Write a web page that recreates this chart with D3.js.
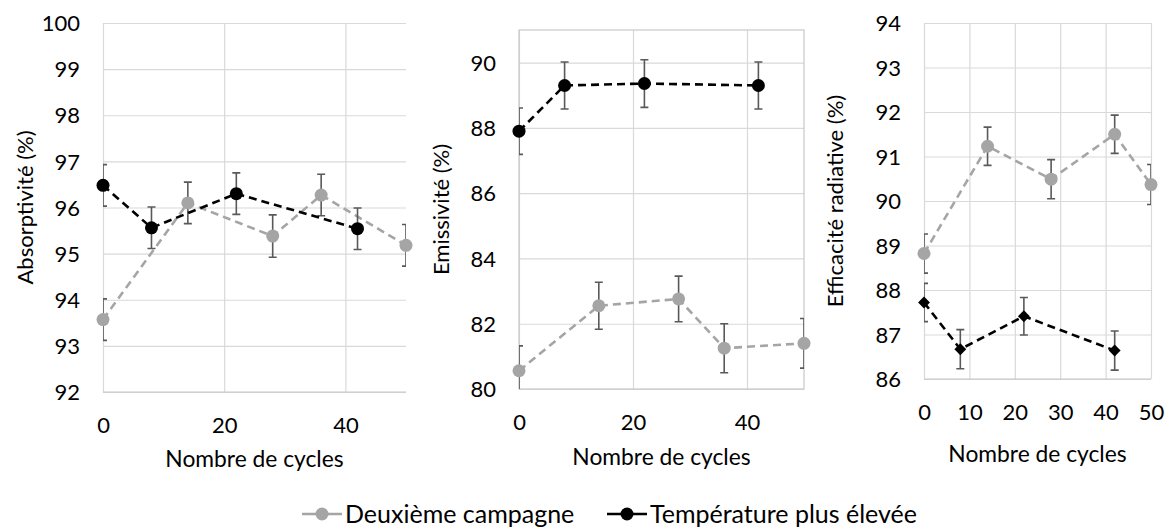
<!DOCTYPE html>
<html>
<head>
<meta charset="utf-8">
<script src="https://cdn.jsdelivr.net/npm/d3@7"></script>
<style>
  body { margin: 0; background: #fff; }
  svg text { font-family: Lato, "Open Sans", sans-serif; fill: #000; }
</style>
</head>
<body>
<div id="chart"></div>
<script>
// values
var seriesNames = ["Deuxième campagne", "Température plus élevée"];

// absorptivite
var absCyclesDeux = [0, 14, 28, 36, 50];
var absDeux = [93.57, 96.1, 95.38, 96.27, 95.18];
var absDeuxErr = [0.45, 0.45, 0.46, 0.45, 0.45];
var absCyclesHaute = [0, 8, 22, 42];
var absHaute = [96.48, 95.56, 96.3, 95.54];
var absHauteErr = [0.45, 0.45, 0.45, 0.45];

// emissivite
var emiCyclesDeux = [0, 14, 28, 36, 50];
var emiDeux = [80.56, 82.55, 82.76, 81.25, 81.4];
var emiDeuxErr = [0.76, 0.72, 0.7, 0.75, 0.76];
var emiCyclesHaute = [0, 8, 22, 42];
var emiHaute = [87.9, 89.3, 89.36, 89.3];
var emiHauteErr = [0.71, 0.72, 0.73, 0.72];

// efficacite radiative
var effCyclesDeux = [0, 14, 28, 42, 50];
var effDeux = [88.82, 91.23, 90.49, 91.5, 90.37];
var effDeuxErr = [0.44, 0.43, 0.44, 0.43, 0.45];
var effCyclesHaute = [0, 8, 22, 42];
var effHaute = [87.72, 86.67, 87.41, 86.64];
var effHauteErr = [0.43, 0.44, 0.42, 0.44];

var zip = function(xs, ys, es) {
  return xs.map(function(c, i) { return {x: c, y: ys[i], e: es[i]}; });
};

var width = 1170, height = 528;
var grey = "#a5a5a5", errColor = "#595959", gridColor = "#d9d9d9";
var fontSize = 22;

var svg = d3.select("#chart").append("svg")
  .attr("width", width)
  .attr("height", height);

var panels = [
  {id: "p1", left: 103, right: 406, top: 23, bottom: 392,
   yDomain: [92, 100], yTicks: d3.range(92, 101, 1), xTicks: [0, 20, 40],
   border: false, title: "Absorptivité (%)", titleX: 25, titleY: 459,
   deux: zip(absCyclesDeux, absDeux, absDeuxErr), haute: zip(absCyclesHaute, absHaute, absHauteErr),
   marker: "circle"},
  {id: "p2", left: 519, right: 804, top: 30, bottom: 389,
   yDomain: [80, 91], yTicks: d3.range(80, 91, 2), xTicks: [0, 20, 40],
   border: true, title: "Emissivité (%)", titleX: 441, titleY: 457,
   deux: zip(emiCyclesDeux, emiDeux, emiDeuxErr), haute: zip(emiCyclesHaute, emiHaute, emiHauteErr),
   marker: "circle"},
  {id: "p3", left: 924, right: 1151, top: 23, bottom: 379,
   yDomain: [86, 94], yTicks: d3.range(86, 95, 1), xTicks: d3.range(0, 51, 10),
   border: false, title: "Efficacité radiative (%)", titleX: 835, titleY: 454,
   deux: zip(effCyclesDeux, effDeux, effDeuxErr), haute: zip(effCyclesHaute, effHaute, effHauteErr),
   marker: "diamond"}
];

panels.forEach(function(p) {
  var x = d3.scaleLinear().domain([0, 50]).range([p.left, p.right]);
  var y = d3.scaleLinear().domain(p.yDomain).range([p.bottom, p.top]);
  var g = svg.append("g");

  // clip for error bars (Excel cuts them at the plot area)
  svg.append("clipPath").attr("id", "clip-" + p.id)
    .append("rect")
      .attr("x", p.left).attr("y", p.top)
      .attr("width", p.right - p.left).attr("height", p.bottom - p.top);

  // horizontal grid + y labels
  var yAxis = g.append("g")
    .attr("transform", "translate(" + p.left + ",0)")
    .call(d3.axisLeft(y).tickValues(p.yTicks).tickSize(-(p.right - p.left)).tickPadding(23));
  yAxis.select(".domain").remove();
  yAxis.selectAll("line").attr("stroke", gridColor).attr("stroke-width", 1.2);
  yAxis.selectAll("text").style("font-size", fontSize + "px").attr("dy", "0.35em");

  // vertical grid + x labels
  var xAxis = g.append("g")
    .attr("transform", "translate(0," + p.bottom + ")")
    .call(d3.axisBottom(x).tickValues(p.xTicks).tickSize(-(p.bottom - p.top)).tickPadding(0));
  xAxis.select(".domain").remove();
  xAxis.selectAll("line").attr("stroke", gridColor).attr("stroke-width", 1.2);
  xAxis.selectAll("text").style("font-size", fontSize + "px")
    .attr("y", 33).attr("dy", "0.35em");

  // axis lines / border
  if (p.border) {
    g.append("rect")
      .attr("x", p.left).attr("y", p.top)
      .attr("width", p.right - p.left).attr("height", p.bottom - p.top)
      .attr("fill", "none").attr("stroke", "#c8c8c8").attr("stroke-width", 1.2);
  } else {
    g.append("line").attr("x1", p.left).attr("x2", p.right)
      .attr("y1", p.bottom).attr("y2", p.bottom)
      .attr("stroke", "#c8c8c8").attr("stroke-width", 1.2);
  }

  // titles
  g.append("text")
    .attr("transform", "translate(" + p.titleX + "," + ((p.top + p.bottom) / 2) + ") rotate(-90)")
    .attr("text-anchor", "middle")
    .attr("dy", "0.35em")
    .style("font-size", fontSize + "px")
    .text(p.title);
  g.append("text")
    .attr("x", (p.left + p.right) / 2)
    .attr("y", p.titleY)
    .attr("text-anchor", "middle")
    .attr("dy", "0.35em")
    .style("font-size", "22.8px")
    .text("Nombre de cycles");

  var line = d3.line().x(function(d) { return x(d.x); }).y(function(d) { return y(d.y); });

  var drawSeries = function(data, color, marker) {
    g.append("path")
      .datum(data)
      .attr("d", line)
      .attr("fill", "none")
      .attr("stroke", color)
      .attr("stroke-width", 2.6)
      .attr("stroke-dasharray", "8,5");

    var eb = g.append("g").attr("clip-path", "url(#clip-" + p.id + ")");
    eb.selectAll("path.err")
      .data(data).enter()
      .append("path")
        .attr("class", "err")
        .attr("d", function(d) {
          var cx = x(d.x), y0 = y(d.y - d.e), y1 = y(d.y + d.e);
          return "M" + (cx - 4) + "," + y1 + "H" + (cx + 4) +
                 "M" + cx + "," + y1 + "V" + y0 +
                 "M" + (cx - 4) + "," + y0 + "H" + (cx + 4);
        })
        .attr("fill", "none")
        .attr("stroke", errColor)
        .attr("stroke-width", 1.6);

    if (marker === "diamond") {
      g.selectAll("path.mk-" + color.slice(1))
        .data(data).enter()
        .append("path")
          .attr("d", d3.symbol().type(d3.symbolDiamond2).size(90))
          .attr("transform", function(d) { return "translate(" + x(d.x) + "," + y(d.y) + ")"; })
          .attr("fill", color);
    } else {
      g.selectAll("circle.mk-" + color.slice(1))
        .data(data).enter()
        .append("circle")
          .attr("cx", function(d) { return x(d.x); })
          .attr("cy", function(d) { return y(d.y); })
          .attr("r", 6.5)
          .attr("fill", color);
    }
  };

  drawSeries(p.deux, grey, "circle");
  drawSeries(p.haute, "#000000", p.marker);
});

// legend
var legend = svg.append("g").attr("transform", "translate(0,514)");
var legendItems = [{name: seriesNames[0], color: grey, x: 302}, {name: seriesNames[1], color: "#000000", x: 607}];
legendItems.forEach(function(it) {
  legend.append("line")
    .attr("x1", it.x).attr("x2", it.x + 40)
    .attr("stroke", it.color).attr("stroke-width", 2.6);
  legend.append("circle")
    .attr("cx", it.x + 20).attr("r", 6.5).attr("fill", it.color);
  legend.append("text")
    .attr("x", it.x + 43)
    .attr("dy", "0.35em")
    .style("font-size", "25px")
    .text(it.name);
});
</script>
</body>
</html>
